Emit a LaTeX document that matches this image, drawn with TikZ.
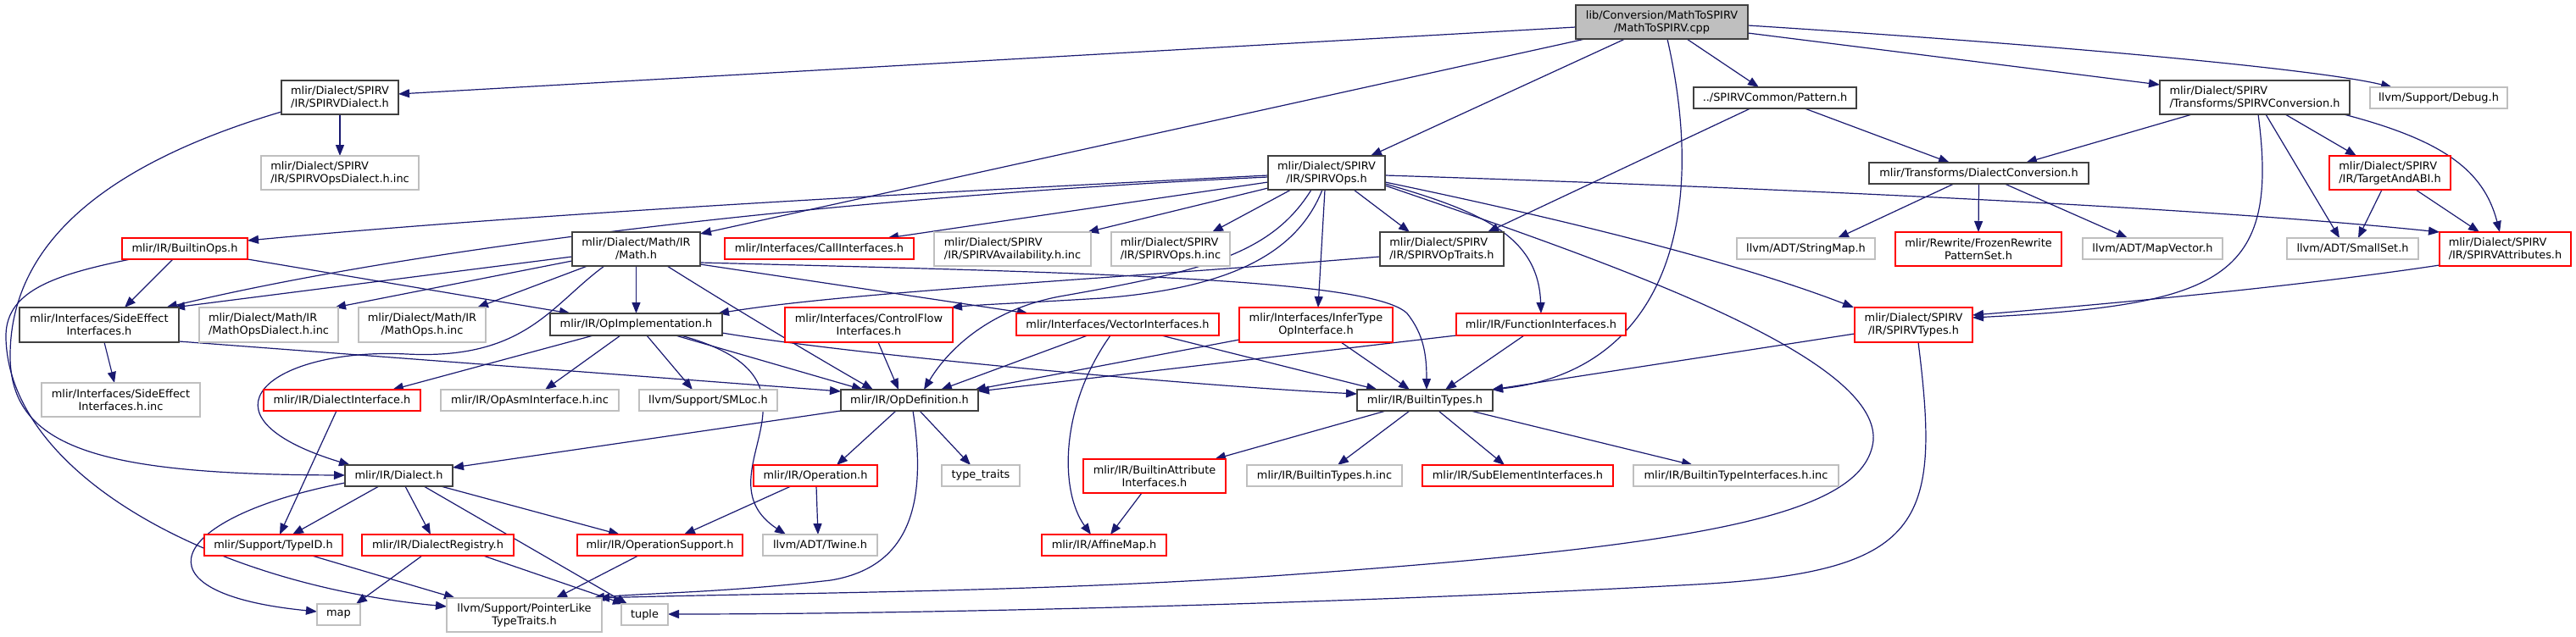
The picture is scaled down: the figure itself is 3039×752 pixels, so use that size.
\documentclass[tikz,border=0pt]{standalone}
\usepackage{fontspec}
\setmainfont{DejaVu Sans}
\usetikzlibrary{arrows.meta,calc,backgrounds}
\definecolor{Edge}{HTML}{191970}
\definecolor{Frame}{HTML}{404040}
\definecolor{Trunc}{HTML}{FF0000}
\definecolor{Ext}{HTML}{BFBFBF}
\definecolor{RootFill}{HTML}{BFBFBF}

\tikzset{
  hfile/.style={draw=Frame, fill=white, line width=1.5pt, inner sep=0pt,
    font=\fontsize{12.9}{15}\selectfont, align=center},
  htrunc/.style={hfile, draw=Trunc, line width=1.3pt},
  hext/.style={hfile, draw=Ext, line width=1.3pt},
  hroot/.style={hfile, fill=RootFill},
  wh/.style 2 args={minimum width=#1pt, minimum height=#2pt},
  dep/.style={Edge, line width=1.2pt, -{Triangle[length=13pt,width=10pt]}},
}

\begin{document}
\begin{tikzpicture}[x=1pt,y=-1pt]
  \useasboundingbox (0,0) rectangle (3039,752);

  % row 0 - 1
  \node[hroot, wh={203}{40}] (root) at (1960.5,26) {lib/Conversion/MathToSPIRV\\/MathToSPIRV.cpp};
  \node[hfile, wh={138}{40}, align=left] (spvDialect) at (401,115) {mlir/Dialect/SPIRV\\/IR/SPIRVDialect.h};
  \node[hfile, wh={192}{25}] (pattern) at (2094,115.5) {../SPIRVCommon/Pattern.h};
  \node[hfile, wh={224}{40}, align=left] (spvConv) at (2660,115) {mlir/Dialect/SPIRV\\/Transforms/SPIRVConversion.h};
  \node[hext, wh={162}{25}] (debug) at (2877,115.5) {llvm/Support/Debug.h};

  % row 2
  \node[hext, wh={186}{40}, align=left] (spvOpsDialectInc) at (401,204) {mlir/Dialect/SPIRV\\/IR/SPIRVOpsDialect.h.inc};
  \node[hfile, wh={138}{40}] (spvOps) at (1565,204) {mlir/Dialect/SPIRV\\/IR/SPIRVOps.h};
  \node[hfile, wh={259}{25}] (dialectConv) at (2334.5,204.5) {mlir/Transforms/DialectConversion.h};
  \node[htrunc, wh={143}{40}, align=left] (targetABI) at (2819.5,204) {mlir/Dialect/SPIRV\\/IR/TargetAndABI.h};

  % row 3
  \node[htrunc, wh={148}{25}] (builtinOps) at (218,293.5) {mlir/IR/BuiltinOps.h};
  \node[hfile, wh={151}{40}] (mathH) at (750.5,294) {mlir/Dialect/Math/IR\\/Math.h};
  \node[htrunc, wh={223}{25}] (callIf) at (966.5,293.5) {mlir/Interfaces/CallInterfaces.h};
  \node[hext, wh={185}{40}, align=left] (spvAvail) at (1194.5,294) {mlir/Dialect/SPIRV\\/IR/SPIRVAvailability.h.inc};
  \node[hext, wh={140}{40}, align=left] (spvOpsInc) at (1381,294) {mlir/Dialect/SPIRV\\/IR/SPIRVOps.h.inc};
  \node[hfile, wh={146}{40}, align=left] (spvOpTraits) at (1701,294) {mlir/Dialect/SPIRV\\/IR/SPIRVOpTraits.h};
  \node[hext, wh={163}{25}] (stringMap) at (2130.5,293.5) {llvm/ADT/StringMap.h};
  \node[htrunc, wh={196}{40}] (frozen) at (2334,294) {mlir/Rewrite/FrozenRewrite\\PatternSet.h};
  \node[hext, wh={165}{25}] (mapVector) at (2539.5,293.5) {llvm/ADT/MapVector.h};
  \node[hext, wh={155}{25}] (smallSet) at (2775.5,293.5) {llvm/ADT/SmallSet.h};
  \node[htrunc, wh={155}{40}, align=left] (spvAttr) at (2955.5,294) {mlir/Dialect/SPIRV\\/IR/SPIRVAttributes.h};

  % row 4
  \node[hfile, wh={188}{41}] (sideEffect) at (117,383.5) {mlir/Interfaces/SideEffect\\Interfaces.h};
  \node[hext, wh={164}{41}, align=left] (mathOpsDialectInc) at (317,383.5) {mlir/Dialect/Math/IR\\/MathOpsDialect.h.inc};
  \node[hext, wh={150}{41}] (mathOpsInc) at (498,383.5) {mlir/Dialect/Math/IR\\/MathOps.h.inc};
  \node[hfile, wh={203}{26}] (opImpl) at (750.5,383) {mlir/IR/OpImplementation.h};
  \node[htrunc, wh={198}{41}] (controlFlow) at (1025,383.5) {mlir/Interfaces/ControlFlow\\Interfaces.h};
  \node[htrunc, wh={239}{26}] (vectorIf) at (1318.5,383) {mlir/Interfaces/VectorInterfaces.h};
  \node[htrunc, wh={181}{41}] (inferType) at (1552.5,383.5) {mlir/Interfaces/InferType\\OpInterface.h};
  \node[htrunc, wh={200}{26}] (funcIf) at (1818,383) {mlir/IR/FunctionInterfaces.h};
  \node[htrunc, wh={139}{41}] (spvTypes) at (2257.5,383.5) {mlir/Dialect/SPIRV\\/IR/SPIRVTypes.h};

  % row 5
  \node[hext, wh={187}{40}] (sideEffectInc) at (142.5,472) {mlir/Interfaces/SideEffect\\Interfaces.h.inc};
  \node[htrunc, wh={185}{25}] (dialectIf) at (403.5,472.5) {mlir/IR/DialectInterface.h};
  \node[hext, wh={210}{25}] (opAsmInc) at (625,472.5) {mlir/IR/OpAsmInterface.h.inc};
  \node[hext, wh={163}{25}] (smLoc) at (835.5,472.5) {llvm/Support/SMLoc.h};
  \node[hfile, wh={162}{25}] (opDef) at (1073,472.5) {mlir/IR/OpDefinition.h};
  \node[hfile, wh={160}{25}] (builtinTypes) at (1681,472.5) {mlir/IR/BuiltinTypes.h};

  % row 6
  \node[hfile, wh={127}{25}] (dialectH) at (470.5,561.5) {mlir/IR/Dialect.h};
  \node[htrunc, wh={146}{25}] (operation) at (962,561.5) {mlir/IR/Operation.h};
  \node[hext, wh={92}{25}] (typeTraits) at (1157,561.5) {type\_traits};
  \node[htrunc, wh={168}{40}] (builtinAttrIf) at (1362,562) {mlir/IR/BuiltinAttribute\\Interfaces.h};
  \node[hext, wh={183}{25}] (builtinTypesInc) at (1562.5,561.5) {mlir/IR/BuiltinTypes.h.inc};
  \node[htrunc, wh={225}{25}] (subElem) at (1790.5,561.5) {mlir/IR/SubElementInterfaces.h};
  \node[hext, wh={242}{25}] (builtinTypeIfInc) at (2048,561.5) {mlir/IR/BuiltinTypeInterfaces.h.inc};

  % row 7 - 8
  \node[htrunc, wh={163}{25}] (typeId) at (322.5,643.5) {mlir/Support/TypeID.h};
  \node[htrunc, wh={179}{25}] (dialectReg) at (516.5,643.5) {mlir/IR/DialectRegistry.h};
  \node[htrunc, wh={195}{25}] (opSupport) at (778.5,643.5) {mlir/IR/OperationSupport.h};
  \node[hext, wh={135}{25}] (twine) at (967.5,643.5) {llvm/ADT/Twine.h};
  \node[htrunc, wh={147}{25}] (affineMap) at (1302.5,643.5) {mlir/IR/AffineMap.h};
  \node[hext, wh={51}{25}] (mapH) at (399.5,725.5) {map};
  \node[hext, wh={183}{40}] (pointerLike) at (618.5,726) {llvm/Support/PointerLike\\TypeTraits.h};
  \node[hext, wh={55}{25}] (tupleH) at (760.5,725.5) {tuple};

  \begin{scope}[on background layer]
  % straight includes: from/dx/dy/to/dx/dy
  \foreach \a/\ax/\ay/\b/\bx/\by in {
    root/-101.5/6/spvDialect/69/-4, root/-90.5/20/mathH/75.5/-18,
    root/-43.5/20/spvOps/52/-20, root/29.5/20/pattern/-19/-12.5,
    root/101.5/13/spvConv/-112/-15,
    spvDialect/0/20/spvOpsDialectInc/0/-20,
    builtinOps/-14/12.5/sideEffect/30/-20.5, builtinOps/74/12.5/opImpl/-77.5/-13,
    sideEffect/6/20.5/sideEffectInc/-7.5/-20, sideEffect/94/19.5/opDef/-81/-10.5,
    mathH/-75.5/9/sideEffect/88/-20.5, mathH/-75.5/14/mathOpsDialectInc/78/-20.5,
    mathH/-57.5/20/mathOpsInc/65/-20.5, mathH/0/20/opImpl/0/-13,
    mathH/75.5/18/vectorIf/-105.5/-13,
    spvOps/-69/11/callIf/80.5/-12.5, spvOps/-69/18/spvAvail/88.5/-20,
    spvOps/-42/20/spvOpsInc/49/-20, spvOps/-2/20/inferType/2.5/-20.5,
    spvOps/32/20/spvOpTraits/-38/-20,
    pattern/-29/12.5/spvOpTraits/54/-20, pattern/35/12.5/dialectConv/-34.5/-12.5,
    spvConv/-74/20/dialectConv/55.5/-12.5, spvConv/36/20/targetABI/-39.5/-20,
    spvConv/13/20/smallSet/-15.5/-12.5,
    dialectConv/-29.5/12.5/stringMap/37.5/-12.5, dialectConv/0/12.5/frozen/0/-20,
    dialectConv/30.5/12.5/mapVector/-29.5/-12.5,
    targetABI/-9.5/20/smallSet/6.5/-12.5, targetABI/30.5/20/spvAttr/-30.5/-20,
    spvTypes/-69.5/10.5/builtinTypes/79/-12.5,
    opImpl/-50.5/13/dialectIf/59.5/-12.5, opImpl/-18.5/13/opAsmInc/18/-12.5,
    opImpl/12.5/13/smLoc/-18.5/-12.5, opImpl/46.5/13/opDef/-55/-12.5,
    opDef/-81/12.5/dialectH/63.5/-9.5, opDef/-16/12.5/operation/25/-12.5,
    opDef/12/12.5/typeTraits/-12/-12.5,
    controlFlow/11/20.5/opDef/-13/-12.5,
    vectorIf/-35.5/13/opDef/37/-12.5, vectorIf/51.5/13/builtinTypes/-56/-12.5,
    inferType/-90.5/17.5/opDef/77/-12.5, inferType/29.5/20.5/builtinTypes/-18/-12.5,
    funcIf/-100/13/opDef/81/-10.5, funcIf/-20/13/builtinTypes/24/-12.5,
    builtinTypes/-46/12.5/builtinAttrIf/71/-20, builtinTypes/-18/12.5/builtinTypesInc/15.5/-12.5,
    builtinTypes/16/12.5/subElem/-15.5/-12.5, builtinTypes/54/12.5/builtinTypeIfInc/-51/-12.5,
    builtinAttrIf/-15/20/affineMap/7.5/-12.5,
    dialectIf/-6.5/12.5/typeId/7.5/-12.5,
    dialectH/-23.5/12.5/typeId/22.5/-12.5, dialectH/7.5/12.5/dialectReg/-8.5/-12.5,
    dialectH/49.5/12.5/opSupport/-47.5/-12.5, dialectH/29.5/12.5/tupleH/-20.5/-12.5,
    typeId/45.5/12.5/pointerLike/-81.5/-20,
    dialectReg/-18.5/12.5/mapH/20.5/-12.5, dialectReg/53.5/12.5/tupleH/-24.5/-12.5,
    operation/-29/12.5/opSupport/28.5/-12.5, operation/1/12.5/twine/-2.5/-12.5,
    opSupport/-25.5/12.5/pointerLike/37.5/-20} {
    \draw[dep] ($(\a)+(\ax,\ay)$) -- ($(\b)+(\bx,\by)$);
  }

  % curved includes
  \draw[dep] ($(root)+(6.5,20)$) .. controls (2020,280) and (1950,440) .. ($(builtinTypes)+(79,-12.5)$);
  \draw[dep] ($(root)+(101.5,4)$) .. controls (2500,58) and (2750,85) .. ($(debug)+(-55,-12.5)$);
  \draw[dep] ($(spvDialect)+(-69,17)$) .. controls (120,195) and (12,290) .. (12,420)
    .. controls (12,530) and (120,560) .. ($(dialectH)+(-63.5,-0.5)$);
  \draw[dep] ($(builtinOps)+(-64,12.5)$) .. controls (60,325) and (5,345) .. (7,400)
    .. controls (12,560) and (250,690) .. ($(pointerLike)+(-91.5,-10)$);
  \draw[dep] ($(mathH)+(-37.5,20)$) .. controls (650,360) and (620,425) .. (480,418)
    .. controls (320,410) and (220,490) .. ($(dialectH)+(-57.5,-12.5)$);
  \draw[dep] ($(mathH)+(36.5,20)$) .. controls (860,360) and (960,420) .. ($(opDef)+(-43,-12.5)$);
  \draw[dep] ($(mathH)+(75.5,16)$) .. controls (1300,322) and (1620,330) .. (1660,370)
    .. controls (1680,395) and (1683,420) .. ($(builtinTypes)+(2,-12.5)$);
  \draw[dep] ($(spvOps)+(-69,3)$) .. controls (1000,232) and (600,255) .. ($(builtinOps)+(74,-9.5)$);
  \draw[dep] ($(spvOps)+(-69,5)$) .. controls (1000,232) and (500,290) .. ($(sideEffect)+(79,-20.5)$);
  \draw[dep] ($(spvOps)+(-18,20)$) .. controls (1500,300) and (1420,320) .. (1250,350)
    .. controls (1170,365) and (1120,410) .. ($(opDef)+(17,-12.5)$);
  \draw[dep] ($(spvOps)+(-5,20)$) .. controls (1530,300) and (1450,340) .. (1300,352)
    .. controls (1200,358) and (1150,360) .. ($(controlFlow)+(97,-20.5)$);
  \draw[dep] ($(spvOps)+(69,13)$) .. controls (1750,250) and (1815,280) .. ($(funcIf)+(0,-13)$);
  \draw[dep] ($(spvOps)+(69,11)$) .. controls (1850,260) and (2050,310) .. ($(spvTypes)+(-70.5,-20.5)$);
  \draw[dep] ($(spvOps)+(69,3)$) .. controls (2100,222) and (2600,245) .. ($(spvAttr)+(-77.5,-20)$);
  \draw[dep] ($(spvOps)+(69,15)$) .. controls (1900,310) and (2217,420) .. (2210,520)
    .. controls (2200,610) and (2000,645) .. (1500,680)
    .. controls (1200,700) and (900,700) .. ($(pointerLike)+(87.5,-20)$);
  \draw[dep] ($(spvOpTraits)+(-73,9)$) .. controls (1300,330) and (1000,345) .. ($(opImpl)+(96.5,-13)$);
  \draw[dep] ($(spvConv)+(4,20)$) .. controls (2690,330) and (2620,360) .. ($(spvTypes)+(69.5,-8.5)$);
  \draw[dep] ($(spvConv)+(105,20)$) .. controls (2880,165) and (2930,200) .. ($(spvAttr)+(-6.5,-20)$);
  \draw[dep] ($(spvAttr)+(-77.5,19)$) .. controls (2700,340) and (2450,362) .. ($(spvTypes)+(69.5,-11.5)$);
  \draw[dep] ($(spvTypes)+(5.5,20.5)$) .. controls (2290,620) and (2270,675) .. (2000,690)
    .. controls (1600,712) and (1100,725) .. ($(tupleH)+(27.5,-0.5)$);
  \draw[dep] ($(opImpl)+(52.5,13)$) .. controls (1000,450) and (820,560) .. ($(twine)+(-40.5,-12.5)$);
  \draw[dep] ($(opImpl)+(101.5,10)$) .. controls (1000,418) and (1400,455) .. ($(builtinTypes)+(-80,-7.5)$);
  \draw[dep] ($(opDef)+(4,12.5)$) .. controls (1095,600) and (1070,670) .. (980,685)
    .. controls (850,700) and (760,700) .. ($(pointerLike)+(81.5,-20)$);
  \draw[dep] ($(vectorIf)+(-8.5,13)$) .. controls (1250,480) and (1250,580) .. ($(affineMap)+(-15.5,-12.5)$);
  \draw[dep] ($(dialectH)+(-63.5,8.5)$) .. controls (200,610) and (150,700) .. ($(mapH)+(-25.5,-3.5)$);
  \end{scope}
\end{tikzpicture}
\end{document}
